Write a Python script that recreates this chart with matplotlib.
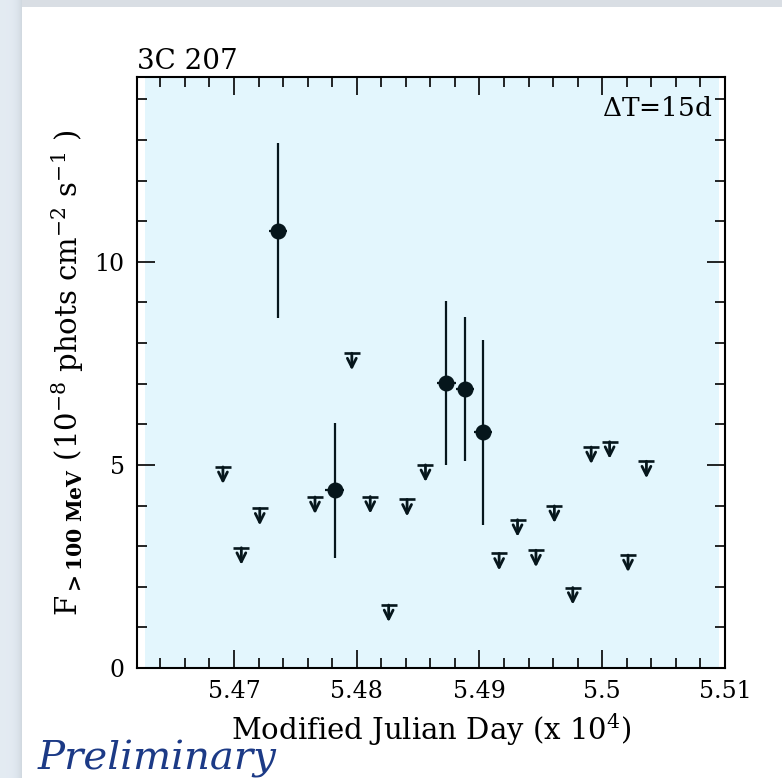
import numpy as np
import matplotlib
matplotlib.use("Agg")
import matplotlib.pyplot as plt
from matplotlib.patches import Rectangle
from matplotlib.ticker import MultipleLocator

plt.rcParams['font.family'] = ['DejaVu Serif']
plt.rcParams['mathtext.fontset'] = 'dejavuserif'

# detections (MJD / 1e4), flux in 1e-8 ph cm^-2 s^-1
det_x = [5.4736, 5.4782, 5.4873, 5.4888, 5.4903]
det_y = [10.77, 4.37, 7.02, 6.87, 5.80]
det_err = [2.15, 1.65, 2.02, 1.78, 2.27]
bin_half = 0.00075  # 15 d bins

# upper limits
ul_x = [5.4691, 5.4706, 5.4721, 5.4766, 5.4796, 5.4811, 5.4826, 5.4841, 5.4856,
        5.4916, 5.4931, 5.4946, 5.4961, 5.4976, 5.4991, 5.5006, 5.5021, 5.5036]
ul_y = [4.95, 2.96, 3.93, 4.21, 7.75, 4.22, 1.55, 4.15, 5.00,
        2.82, 3.65, 2.90, 3.99, 1.98, 5.44, 5.57, 2.78, 5.09]

ink = '#06161c'

fig = plt.figure(figsize=(7.82, 7.78), dpi=100)

# slide-like grey border on top and left
bg = fig.add_axes([0, 0, 1, 1], zorder=-5)
bg.set_axis_off()
bg.set_xlim(0, 782)
bg.set_ylim(778, 0)
bg.add_patch(Rectangle((0, 0), 782, 7, color='#d9dee4', lw=0))
grad = np.linspace(0, 1, 22)
for i, g in enumerate(grad):
    c = np.array([0.89, 0.92, 0.95]) - 0.07 * g ** 4
    bg.add_patch(Rectangle((i, 0), 1.05, 778, color=c, lw=0))

ax = fig.add_axes([0.1752, 0.1414, 0.7519, 0.7596])
ax.set_facecolor('white')
ax.add_patch(Rectangle((0.0136, 0), 0.977, 1, transform=ax.transAxes,
                       color='#e3f6fd', lw=0, zorder=0))

ax.errorbar(det_x, det_y, yerr=det_err, xerr=bin_half, fmt='o', color=ink,
            ms=10.5, elinewidth=1.6, capsize=0, zorder=3)

ax.plot(ul_x, ul_y, ls='none', marker='_', ms=12, mew=1.9, color=ink, zorder=3)
for x, y in zip(ul_x, ul_y):
    ax.annotate('', xy=(x, y - 0.42), xytext=(x, y),
                arrowprops=dict(arrowstyle='->', lw=2.0, color=ink,
                                mutation_scale=16, shrinkA=0, shrinkB=0),
                zorder=3)

ax.set_xlim(5.4621, 5.51)
ax.set_ylim(0, 14.55)
ax.xaxis.set_major_locator(MultipleLocator(0.01))
ax.xaxis.set_minor_locator(MultipleLocator(0.002))
ax.yaxis.set_major_locator(MultipleLocator(5))
ax.yaxis.set_minor_locator(MultipleLocator(1))
ax.set_xticks([5.47, 5.48, 5.49, 5.5, 5.51])
ax.set_xticklabels(['5.47', '5.48', '5.49', '5.5', '5.51'])
ax.tick_params(which='both', direction='in', top=True, right=True,
               labelsize=17, colors='black', width=1.2, pad=9)
ax.tick_params(which='major', length=13)
ax.tick_params(which='minor', length=7)
for s in ax.spines.values():
    s.set_linewidth(1.5)

ax.set_xlabel(r'Modified Julian Day (x 10$^{4}$)', fontsize=21, labelpad=6)
ax.set_ylabel(r'F$_{\mathbf{>100\ MeV}}$ (10$^{-8}$ phots cm$^{-2}$ s$^{-1}$ )',
              fontsize=21, labelpad=6)

ax.text(0.0, 1.003, '3C 207', transform=ax.transAxes, ha='left', va='bottom',
        fontsize=20)
ax.text(0.978, 0.968, r'$\Delta$T=15d', transform=ax.transAxes, ha='right',
        va='top', fontsize=19)

fig.text(38 / 782, 1 - 770 / 778, 'Preliminary', fontsize=29, style='italic',
         color='#1c3a86', ha='left', va='baseline')

fig.savefig('out.png', dpi=100)
